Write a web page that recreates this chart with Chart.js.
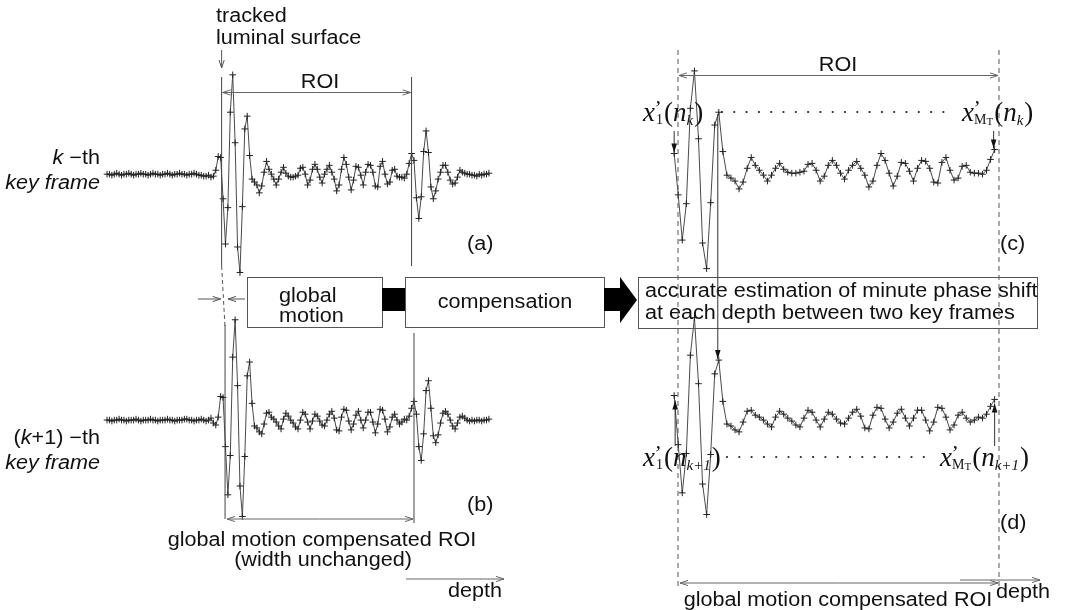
<!DOCTYPE html>
<html>
<head>
<meta charset="utf-8">
<script src="https://cdn.jsdelivr.net/npm/chart.js@4.4.0/dist/chart.umd.min.js"></script>
<style>
  html, body { margin: 0; padding: 0; background: #fff; }
  #wrap { width: 1066px; height: 610px; }
</style>
</head>
<body>
<div id="wrap"><canvas id="canvas" width="1066" height="610"></canvas></div>
<script>
// RF echo amplitude along depth (one value per depth sample), k-th key frame
var frameK = [
  0, 0, -1, 0, 1, 0, -1, 0, 0, 1, 0, -1, 0, 0, 1, 0, 0, -1, 0, 1,
  0, 0, -1, 0, 0, 1, 0, -1, 0, 0, 1, 0, 0, -1, 0, 0, 1, 0, -1, -1,
  -2, -2, -1, -3, -2, 4, 18, 17, -25, -71, -34, 63, 101, 32, -74, -100, -33, 46, 59, 19,
  -5, -8, -11, -19, -12, 2, 13, 5, 0, -5, -11, -5, 2, 7, 1, -2, -3, -3, -2, -1,
  6, 7, 0, -11, -6, 5, 10, 5, -3, -9, 0, 5, 9, 2, -5, -17, -11, 5, 17, 10,
  -3, -16, -6, 8, 7, -1, -11, 2, 10, 9, 2, -12, -13, 8, 13, 0, -10, -8, 4, 5,
  -2, -3, -3, -4, 0, 11, 21, 14, -24, -45, -23, 23, 44, 22, -13, -25, -17, -5, 2, 9,
  9, 2, -6, -10, -9, -3, 4, 2, 1, 0, 0, -1, -1, -2, 0, -1, 0, 0, 1
];

// same depth line, (k+1)-th key frame
var frameK1 = [
  0, 0, -1, 0, 0, 1, 0, 0, -1, 0, 0, 0, 1, 0, -1, 0, 0, 0, 1, 0,
  0, -1, 0, 0, 0, 1, 0, 0, -1, 0, 0, 0, 1, 1, 0, 0, -1, 0, 0, 1,
  0, -1, 0, 2, -3, -5, 3, 24, 23, -27, -76, -36, 64, 102, 35, -67, -98, -37, 45, 59,
  17, -6, -8, -12, -14, -4, 7, 8, 3, 1, -2, -6, -9, 1, 7, 4, 0, -3, -7, -9,
  0, 8, 6, -2, -9, -1, 6, 4, -1, -5, -6, 0, 6, 9, 2, -10, -11, 3, 11, 10,
  -1, -10, -4, 5, 9, 0, -8, 0, 8, 8, -2, -13, -4, 11, 10, 1, -12, -7, 3, 6,
  0, -4, -2, 1, 0, 4, 12, 19, 6, -27, -41, -14, 30, 40, 12, -16, -23, -15, -3, 7,
  9, 6, 0, -6, -9, -3, 3, 4, 2, 0, -1, 0, -1, 0, 0, -1, 0, 0, 1
];

// ROI sample ranges (first and last depth sample)
var roiK = [47, 126];
var roiK1 = [48, 127];

var roiTraceK = frameK.slice(roiK[0], roiK[1] + 1);
var roiTraceK1 = frameK1.slice(roiK1[0], roiK1[1] + 1);

var W = 1066, H = 610;

// linear axis range so that value v0 lands on pixel p0 and v1 on p1
function xRange(v0, p0, v1, p1) {
  var s = (p1 - p0) / (v1 - v0);
  var min = v0 - p0 / s;
  return { min: min, max: min + W / s };
}
// vertical: 1 amplitude unit = 1px, zero at pixel row 'base'
function yRange(base) {
  return { min: base - H, max: base };
}

var xl = xRange(0, 103, 158, 488.5);
var xr = xRange(0, 675.5, 79, 999);

function pts(arr) {
  return arr.map(function (v, i) { return { x: i, y: v }; });
}

function trace(arr, xa, ya) {
  return {
    data: pts(arr),
    xAxisID: xa,
    yAxisID: ya,
    showLine: true,
    borderColor: '#4a4a4a',
    borderWidth: 1,
    pointStyle: 'cross',
    pointRadius: 3.3,
    pointBorderColor: '#222',
    pointBorderWidth: 1,
    tension: 0
  };
}

function axis(r) {
  return { type: 'linear', display: false, min: r.min, max: r.max };
}

// ---- drawing helpers for the labels / boxes / arrows ----
var SANS = '"Liberation Sans", Arial, sans-serif';
var SERIF = '"Liberation Serif", "Times New Roman", serif';
var STRETCH = 1.08;

function txt(ctx, s, x, y, align, size, style) {
  ctx.save();
  ctx.font = (style || '') + ' ' + (size || 20) + 'px ' + SANS;
  var w = ctx.measureText(s).width * STRETCH;
  var left = x;
  if (align === 'center') left = x - w / 2;
  if (align === 'right') left = x - w;
  ctx.translate(left, y);
  ctx.scale(STRETCH, 1);
  ctx.fillStyle = '#111';
  ctx.textAlign = 'left';
  ctx.textBaseline = 'alphabetic';
  ctx.fillText(s, 0, 0);
  ctx.restore();
  return w;
}

// several runs of text on one baseline, e.g. italic k followed by -th
function runs(ctx, parts, x, y, align) {
  var total = 0, i, w = [];
  for (i = 0; i < parts.length; i++) {
    ctx.font = (parts[i][1] || '') + ' 20px ' + SANS;
    w.push(ctx.measureText(parts[i][0]).width * STRETCH);
    total += w[i];
  }
  var cx = align === 'right' ? x - total : x;
  for (i = 0; i < parts.length; i++) {
    txt(ctx, parts[i][0], cx, y, 'left', 20, parts[i][1]);
    cx += w[i];
  }
}

function line(ctx, x1, y1, x2, y2, dash, color, lw) {
  ctx.save();
  ctx.strokeStyle = color || '#444';
  ctx.lineWidth = lw || 1;
  ctx.setLineDash(dash || []);
  ctx.beginPath();
  ctx.moveTo(x1, y1);
  ctx.lineTo(x2, y2);
  ctx.stroke();
  ctx.restore();
}

// thin open arrow head at (x2, y2)
function arrow(ctx, x1, y1, x2, y2, color) {
  line(ctx, x1, y1, x2, y2, null, color || '#555');
  var a = Math.atan2(y2 - y1, x2 - x1), L = 8, h = 2.6;
  ctx.save();
  ctx.strokeStyle = color || '#555';
  ctx.lineWidth = 1;
  ctx.beginPath();
  ctx.moveTo(x2 - L * Math.cos(a) - h * Math.sin(a), y2 - L * Math.sin(a) + h * Math.cos(a));
  ctx.lineTo(x2, y2);
  ctx.lineTo(x2 - L * Math.cos(a) + h * Math.sin(a), y2 - L * Math.sin(a) - h * Math.cos(a));
  ctx.stroke();
  ctx.restore();
}

// arrow with a small filled head
function arrowFilled(ctx, x1, y1, x2, y2) {
  line(ctx, x1, y1, x2, y2, null, '#333');
  var a = Math.atan2(y2 - y1, x2 - x1), L = 9, h = 2.8;
  ctx.save();
  ctx.fillStyle = '#111';
  ctx.beginPath();
  ctx.moveTo(x2, y2);
  ctx.lineTo(x2 - L * Math.cos(a) - h * Math.sin(a), y2 - L * Math.sin(a) + h * Math.cos(a));
  ctx.lineTo(x2 - L * Math.cos(a) + h * Math.sin(a), y2 - L * Math.sin(a) - h * Math.cos(a));
  ctx.closePath();
  ctx.fill();
  ctx.restore();
}

function box(ctx, x, y, w, h) {
  ctx.save();
  ctx.strokeStyle = '#555';
  ctx.lineWidth = 1;
  ctx.strokeRect(x + 0.5, y + 0.5, w, h);
  ctx.restore();
}

// x'_sub(n_idx) written in math italics
function mathLabel(ctx, x, y, sub, idx) {
  ctx.save();
  ctx.fillStyle = '#111';
  ctx.textBaseline = 'alphabetic';
  var cx = x;
  ctx.font = 'italic 27px ' + SERIF;
  ctx.fillText('x', cx, y);
  cx += ctx.measureText('x').width;
  ctx.font = 'italic 22px ' + SERIF;
  ctx.fillText('\u2019', cx - 2, y - 6);
  ctx.font = '14px ' + SERIF;
  if (sub === 'MT') {
    ctx.fillText('M', cx, y + 3);
    cx += ctx.measureText('M').width;
    ctx.font = '11px ' + SERIF;
    ctx.fillText('T', cx, y + 4);
    cx += ctx.measureText('T').width + 1;
  } else {
    ctx.fillText(sub, cx + 1, y + 3);
    cx += ctx.measureText(sub).width + 2;
  }
  ctx.font = '27px ' + SERIF;
  ctx.fillText('(', cx, y);
  cx += ctx.measureText('(').width;
  ctx.font = 'italic 27px ' + SERIF;
  ctx.fillText('n', cx, y);
  cx += ctx.measureText('n').width;
  ctx.font = 'italic 15px ' + SERIF;
  ctx.fillText(idx, cx, y + 4);
  cx += ctx.measureText(idx).width;
  ctx.font = '27px ' + SERIF;
  ctx.fillText(')', cx + 1, y);
  ctx.restore();
}

function dotted(ctx, x1, x2, y) {
  ctx.save();
  ctx.fillStyle = '#222';
  for (var x = x1; x <= x2; x += 12.3) {
    ctx.beginPath();
    ctx.arc(x, y, 1.1, 0, Math.PI * 2);
    ctx.fill();
  }
  ctx.restore();
}

var annotations = {
  id: 'annotations',
  afterDatasetsDraw: function (chart) {
    var ctx = chart.ctx;
    var sx = chart.scales;
    var aL = sx.xLeft.getPixelForValue(roiK[0]) + 1;
    var aR = sx.xLeft.getPixelForValue(roiK[1]);
    var bL = sx.xLeft.getPixelForValue(roiK1[0]) + 2;
    var bR = sx.xLeft.getPixelForValue(roiK1[1]);

    // panel (a)
    txt(ctx, 'tracked', 216, 22);
    txt(ctx, 'luminal surface', 216, 44);
    arrow(ctx, aL, 50, aL, 68);
    line(ctx, aL, 77, aL, 266, null, '#444');
    line(ctx, aR, 77, aR, 266, null, '#444');
    arrow(ctx, (aL + aR) / 2, 92.5, aL + 1, 92.5, '#666');
    arrow(ctx, (aL + aR) / 2, 92.5, aR - 1, 92.5, '#666');
    txt(ctx, 'ROI', 320, 88, 'center');
    txt(ctx, '(a)', 467, 250);
    runs(ctx, [['k', 'italic'], [' \u2212th', '']], 100, 164, 'right');
    txt(ctx, 'key frame', 100, 189, 'right', 20, 'italic');

    // global motion between the two frames
    line(ctx, aL, 266, bL, 328, [4, 3], '#555');
    arrow(ctx, 198, 299, aL - 1, 299);
    arrow(ctx, 245, 299, bL + 3, 299);

    // processing boxes
    box(ctx, 247, 277, 135, 50);
    txt(ctx, 'global', 279, 301.5);
    txt(ctx, 'motion', 279, 322);
    ctx.fillStyle = '#000';
    ctx.fillRect(382, 288, 23, 23);
    box(ctx, 405, 277, 199, 50);
    txt(ctx, 'compensation', 505, 308, 'center');
    ctx.fillStyle = '#000';
    ctx.fillRect(604, 288, 17, 23);
    ctx.beginPath();
    ctx.moveTo(620, 277);
    ctx.lineTo(637, 300);
    ctx.lineTo(620, 323);
    ctx.closePath();
    ctx.fill();
    box(ctx, 638, 277, 399, 51);
    txt(ctx, 'accurate estimation of minute phase shift', 645, 297);
    txt(ctx, 'at each depth between two key frames', 645, 318.5);

    // panel (b)
    line(ctx, bL, 325, bL, 519, null, '#444');
    line(ctx, bR, 333, bR, 523, null, '#444');
    arrow(ctx, (bL + bR) / 2, 519, bL + 2, 519, '#666');
    arrow(ctx, (bL + bR) / 2, 519, bR - 1, 519, '#666');
    txt(ctx, '(b)', 467, 511);
    runs(ctx, [['(', ''], ['k', 'italic'], ['+1) \u2212th', '']], 100, 444, 'right');
    txt(ctx, 'key frame', 100, 469, 'right', 20, 'italic');
    txt(ctx, 'global motion compensated ROI', 322, 546, 'center');
    txt(ctx, '(width unchanged)', 323, 566, 'center');
    arrow(ctx, 406, 579, 504, 579, '#666');
    txt(ctx, 'depth', 502, 597, 'right');

    // panels (c) and (d): ROI only, stretched along depth
    var cL = 678, cR = 999;
    line(ctx, cL, 50, cL, 586, [5, 4], '#555');
    line(ctx, cR, 50, cR, 586, [5, 4], '#555');
    arrow(ctx, (cL + cR) / 2, 75.5, cL + 1, 75.5, '#666');
    arrow(ctx, (cL + cR) / 2, 75.5, cR - 1, 75.5, '#666');
    txt(ctx, 'ROI', 838, 71, 'center');
    mathLabel(ctx, 643, 121, '1', 'k');
    dotted(ctx, 722, 955, 112);
    mathLabel(ctx, 962, 121, 'MT', 'k');
    var c0x = sx.xRight.getPixelForValue(0), cNx = sx.xRight.getPixelForValue(roiTraceK.length - 1);
    arrowFilled(ctx, c0x, 131, c0x, sx.yC.getPixelForValue(roiTraceK[0]) - 1);
    arrowFilled(ctx, cNx - 1, 131, cNx - 1, sx.yC.getPixelForValue(roiTraceK[roiTraceK.length - 1]) - 1);
    txt(ctx, '(c)', 1000, 250);

    // tracking of one peak from (c) down to (d)
    var pk = 11;
    var px = sx.xRight.getPixelForValue(pk) - 1;
    arrowFilled(ctx, px, sx.yC.getPixelForValue(roiTraceK[pk]) + 2, px, sx.yD.getPixelForValue(roiTraceK1[pk]) - 1);

    var d0y = sx.yD.getPixelForValue(roiTraceK1[0]);
    var dNy = sx.yD.getPixelForValue(roiTraceK1[roiTraceK1.length - 1]);
    arrowFilled(ctx, c0x + 1, 446, c0x + 1, d0y + 5);
    arrowFilled(ctx, cNx, 446, cNx, dNy + 4);
    mathLabel(ctx, 643, 466, '1', 'k+1');
    dotted(ctx, 727, 935, 457);
    mathLabel(ctx, 940, 466, 'MT', 'k+1');
    txt(ctx, '(d)', 1000, 529);
    arrow(ctx, (cL + cR) / 2, 583, cL + 2, 583, '#666');
    arrow(ctx, (cL + cR) / 2, 583, cR - 1, 583, '#666');
    txt(ctx, 'global motion compensated ROI', 838, 606, 'center');
    arrow(ctx, 960, 580, 1040, 580, '#666');
    txt(ctx, 'depth', 1050, 598, 'right');
  }
};

var ctx = document.getElementById('canvas').getContext('2d');
var chart = new Chart(ctx, {
  type: 'scatter',
  data: {
    datasets: [
      trace(frameK, 'xLeft', 'yA'),
      trace(frameK1, 'xLeft', 'yB'),
      trace(roiTraceK, 'xRight', 'yC'),
      trace(roiTraceK1, 'xRight', 'yD')
    ]
  },
  options: {
    responsive: false,
    animation: false,
    devicePixelRatio: 1,
    events: [],
    layout: { padding: 0 },
    plugins: { legend: { display: false }, tooltip: { enabled: false } },
    scales: {
      xLeft: axis(xl),
      xRight: axis(xr),
      yA: axis(yRange(172)),
      yB: axis(yRange(422)),
      yC: axis(yRange(168)),
      yD: axis(yRange(420))
    }
  },
  plugins: [annotations]
});
</script>
</body>
</html>
